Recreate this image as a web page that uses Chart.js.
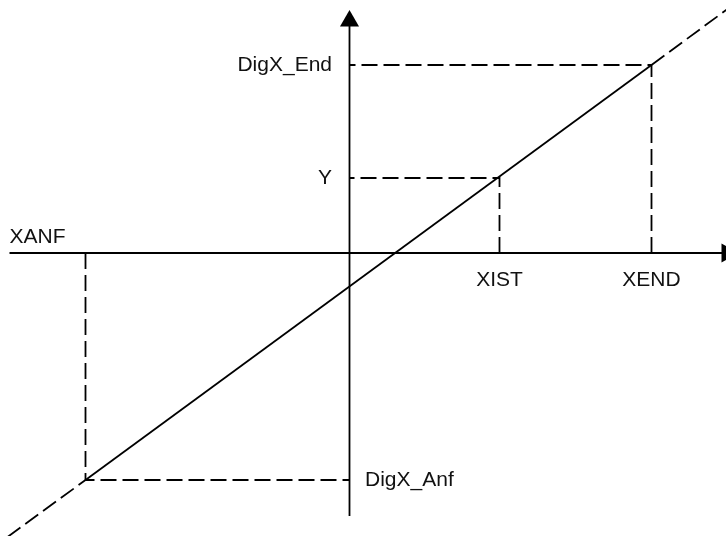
<!DOCTYPE html>
<html>
<head>
<meta charset="utf-8">
<script src="https://cdn.jsdelivr.net/npm/chart.js@4/dist/chart.umd.min.js"></script>
<style>
  html, body { margin: 0; padding: 0; background: #fff; }
  canvas { display: block; }
</style>
</head>
<body>
<canvas id="chart" width="726" height="536"></canvas>
<script>
// values (1 unit = 10 px, origin at the axis crossing)
const xLabels = ['XANF', 'XIST', 'XEND'];
const xValues = [-26.4, 15.0, 30.2];
const yLabels = ['DigX_Anf', 'Y', 'DigX_End'];
const yValues = [-22.7, 7.5, 18.8];

// characteristic line: dashed ends, solid between (XANF, DigX_Anf) and (XEND, DigX_End)
const lineX = [-34.2, -26.4, 30.2, 37.8];
const lineY = [-28.4, -22.7, 18.8, 24.4];

// axis extents (arrow centres at the far ends)
const axisX = [-34.0, 37.75];
const axisY = [-26.3, 23.2];

const dash = [16, 6];

const toPoints = (xs, ys) => xs.map((x, i) => ({ x: x, y: ys[i] }));

// the dashed helper lines, drawn from the characteristic line towards the axes
const guideEnd = toPoints([0, xValues[2], xValues[2]], [yValues[2], yValues[2], 0]);
const guideIst = toPoints([0, xValues[1], xValues[1]], [yValues[1], yValues[1], 0]);
const guideAnf = toPoints([xValues[0], xValues[0], 0], [0, yValues[0], yValues[0]]);

const labelPlugin = {
  id: 'labels',
  afterDatasetsDraw(chart) {
    const ctx = chart.ctx;
    const xs = chart.scales.x;
    const ys = chart.scales.y;
    const x0 = xs.getPixelForValue(0);
    const y0 = ys.getPixelForValue(0);
    ctx.save();
    ctx.fillStyle = '#111';
    ctx.font = '21px "Liberation Sans", Arial, sans-serif';
    ctx.textBaseline = 'middle';

    xLabels.forEach((label, i) => {
      if (xValues[i] < 0) {
        ctx.textAlign = 'left';
        ctx.fillText(label, xs.getPixelForValue(axisX[0]), y0 - 16);
      } else {
        ctx.textAlign = 'center';
        ctx.fillText(label, xs.getPixelForValue(xValues[i]), y0 + 27);
      }
    });

    yLabels.forEach((label, i) => {
      const py = ys.getPixelForValue(yValues[i]);
      if (yValues[i] < 0) {
        ctx.textAlign = 'left';
        ctx.fillText(label, x0 + 15.5, py);
      } else {
        ctx.textAlign = 'right';
        ctx.fillText(label, x0 - 17.5, py);
      }
    });
    ctx.restore();
  }
};

const lineStyle = {
  showLine: true,
  borderColor: '#000',
  borderWidth: 1.8,
  pointRadius: 0,
  tension: 0,
  fill: false
};

new Chart(document.getElementById('chart'), {
  type: 'scatter',
  data: {
    datasets: [
      Object.assign({}, lineStyle, {
        label: 'x axis',
        data: toPoints(axisX, [0, 0]),
        pointRadius: [0, 11],
        pointStyle: 'triangle',
        rotation: 90,
        pointBackgroundColor: '#000',
        pointBorderWidth: 0
      }),
      Object.assign({}, lineStyle, {
        label: 'y axis',
        data: toPoints([0, 0], axisY),
        pointRadius: [0, 11],
        pointStyle: 'triangle',
        rotation: 0,
        pointBackgroundColor: '#000',
        pointBorderWidth: 0
      }),
      Object.assign({}, lineStyle, { label: 'DigX_End', data: guideEnd.slice().reverse(), borderDash: dash }),
      Object.assign({}, lineStyle, { label: 'Y', data: guideIst.slice().reverse(), borderDash: dash }),
      Object.assign({}, lineStyle, { label: 'DigX_Anf', data: guideAnf, borderDash: dash }),
      Object.assign({}, lineStyle, {
        label: 'Kennlinie',
        data: toPoints(lineX, lineY),
        segment: {
          borderDash: ctx => ctx.p0DataIndex === 1 ? [] : dash
        }
      })
    ]
  },
  options: {
    responsive: false,
    animation: false,
    layout: { padding: 0, autoPadding: false },
    plugins: {
      legend: { display: false },
      tooltip: { enabled: false }
    },
    scales: {
      x: { type: 'linear', min: -34.95, max: 37.65, display: false },
      y: { type: 'linear', min: -28.3, max: 25.3, display: false }
    }
  },
  plugins: [labelPlugin]
});
</script>
</body>
</html>
